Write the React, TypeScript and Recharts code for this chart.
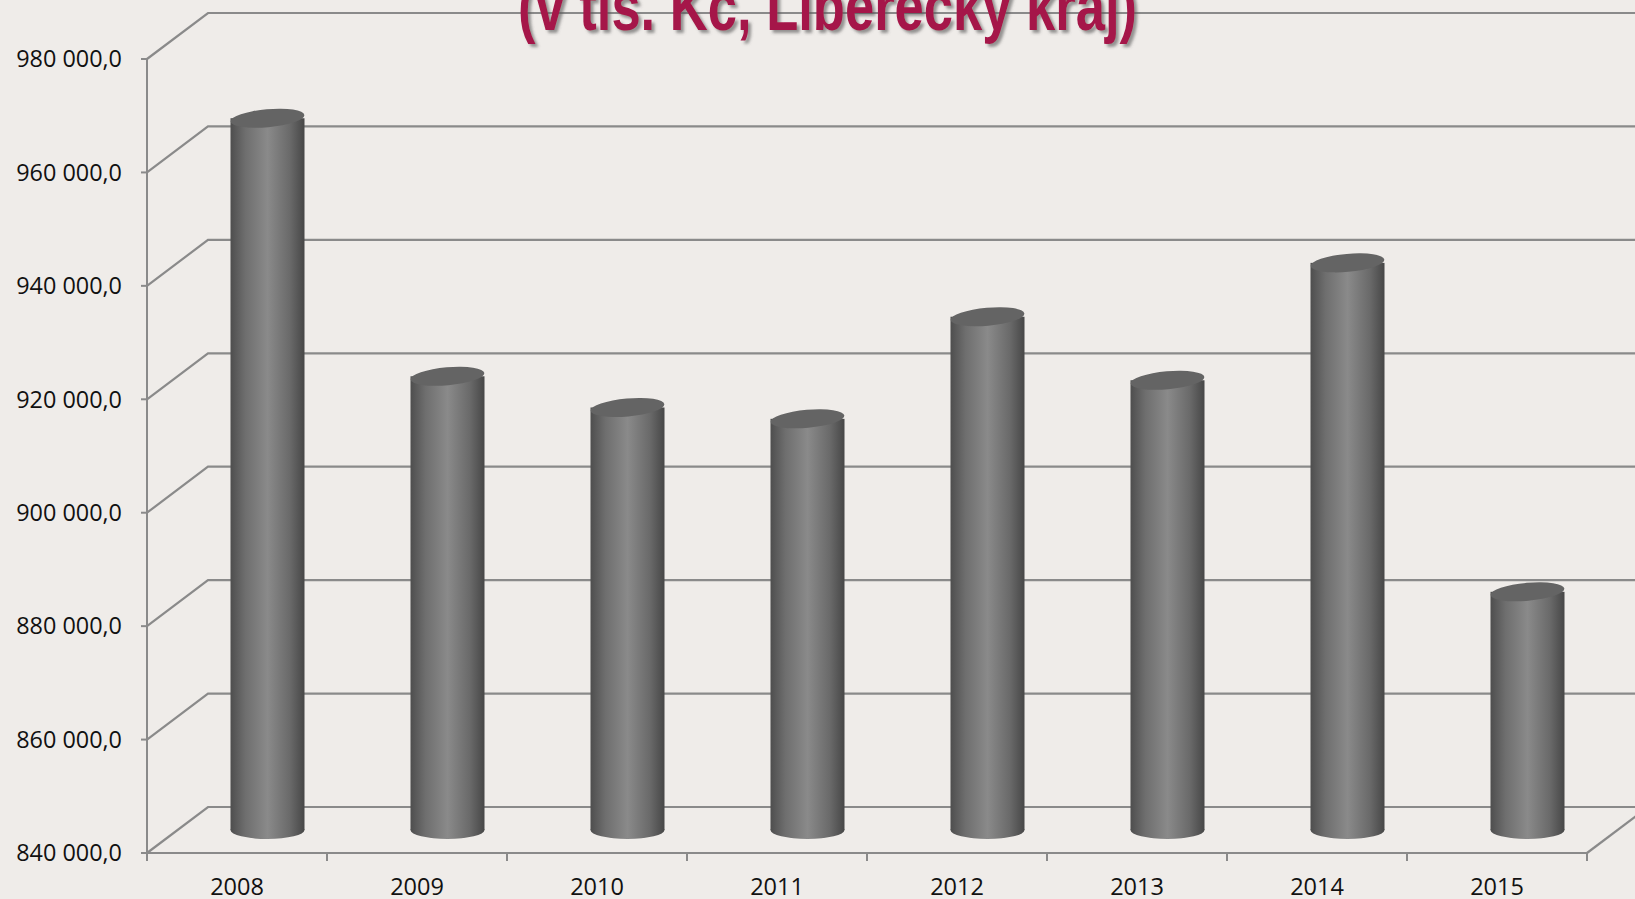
import React from "react";
import { BarChart, Bar, XAxis, YAxis, CartesianGrid } from "recharts";

const years = ["2008", "2009", "2010", "2011", "2012", "2013", "2014", "2015"];
const amounts = [965500, 920000, 914500, 912500, 930500, 919300, 940000, 882000];
const yTicks = [840000, 860000, 880000, 900000, 920000, 940000, 960000, 980000];

const data = years.map((year, i) => ({ year, amount: amounts[i] }));

// depth of the 3D box (back wall offset)
const DEPTH_X = 61;
const DEPTH_Y = 46;
const GRID = "#8a8a8a";
const BG = "#efece9";

const fmt = (v: number) => {
  const s = Math.round(v).toString().replace(/\B(?=(\d{3})+(?!\d))/g, " ");
  return s + ",0";
};

const GridLine = (props: any) => {
  const { x1, y1, x2, y, height } = props;
  const isFloor = y !== undefined && height !== undefined && Math.abs(y1 - (y + height)) < 1;
  return (
    <g>
      <path
        d={`M${x1},${y1} L${x1 + DEPTH_X},${y1 - DEPTH_Y} L${x2 + DEPTH_X + 200},${y1 - DEPTH_Y}`}
        fill="none"
        stroke={GRID}
        strokeWidth={2.2}
      />
      {isFloor && (
        <path d={`M${x2},${y1} L${x2 + DEPTH_X},${y1 - DEPTH_Y}`} fill="none" stroke={GRID} strokeWidth={2.2} />
      )}
    </g>
  );
};

const YearTick = (props: any) => {
  const { x, y, payload, index, width } = props;
  const band = width ? width / years.length : 180;
  const axisY = y - 8;
  return (
    <g>
      <line x1={x - band / 2} y1={axisY} x2={x - band / 2} y2={axisY + 8} stroke={GRID} strokeWidth={2} />
      {index === years.length - 1 && (
        <line x1={x + band / 2} y1={axisY} x2={x + band / 2} y2={axisY + 8} stroke={GRID} strokeWidth={2} />
      )}
      <text x={x} y={axisY + 42} textAnchor="middle" fill="#111" fontSize={23.5} fontFamily="'Open Sans', sans-serif">
        {payload.value}
      </text>
    </g>
  );
};

const Cylinder = (props: any) => {
  const { x, y, width, height } = props;
  if (height == null) return null;
  const cx = x + width / 2 + DEPTH_X / 2;
  const left = cx - width / 2;
  const top = y - DEPTH_Y / 2;
  const bottom = top + height;
  const rx = width / 2;
  const ry = 9;
  return (
    <g>
      <ellipse cx={cx} cy={bottom} rx={rx} ry={ry} fill="url(#cylBody)" />
      <rect x={left} y={top} width={width} height={height} fill="url(#cylBody)" />
      <ellipse cx={cx} cy={top} rx={rx} ry={ry} fill="#646464" transform={`rotate(-5 ${cx} ${top})`} />
    </g>
  );
};

export default function App() {
  return (
    <div style={{ position: "absolute", left: 0, top: 0, width: 1635, height: 899, background: BG, overflow: "hidden" }}>
      <BarChart
        width={1635}
        height={899}
        data={data}
        margin={{ top: 59, right: 48, bottom: 0, left: 0 }}
        barCategoryGap={0}
      >
        <defs>
          <linearGradient id="cylBody" x1="0" y1="0" x2="1" y2="0">
            <stop offset="0%" stopColor="#4e4e4e" />
            <stop offset="20%" stopColor="#6e6e6e" />
            <stop offset="50%" stopColor="#8a8a8a" />
            <stop offset="80%" stopColor="#6a6a6a" />
            <stop offset="100%" stopColor="#474747" />
          </linearGradient>
        </defs>
        <CartesianGrid horizontal={(p: any) => <GridLine {...p} />} vertical={false} />
        <XAxis
          dataKey="year"
          height={46}
          axisLine={{ stroke: GRID, strokeWidth: 2 }}
          tickLine={false}
          tick={(p: any) => <YearTick {...p} />}
          interval={0}
        />
        <YAxis
          width={147}
          domain={[840000, 980000]}
          ticks={yTicks}
          allowDataOverflow
          axisLine={{ stroke: GRID, strokeWidth: 2 }}
          tickLine={{ stroke: GRID, strokeWidth: 2 }}
          tickSize={6}
          tickMargin={19}
          tickFormatter={fmt}
          tick={{ fill: "#111", fontSize: 23.4, fontFamily: "'Open Sans', sans-serif" }}
        />
        <Bar dataKey="amount" barSize={74} shape={(p: any) => <Cylinder {...p} />} isAnimationActive={false} />
      </BarChart>
      <svg width={1635} height={60} style={{ position: "absolute", left: 0, top: 0 }}>
        <defs>
          <filter id="tshadow" x="-10%" y="-50%" width="120%" height="200%">
            <feDropShadow dx={3} dy={3} stdDeviation={1.5} floodColor="#555" floodOpacity={0.6} />
          </filter>
        </defs>
        <text
          x={518}
          y={30}
          textLength={619}
          lengthAdjust="spacingAndGlyphs"
          fill="#a51648"
          fontSize={68}
          fontWeight="bold"
          fontFamily="'Liberation Sans', Arial, sans-serif"
          filter="url(#tshadow)"
        >
          (v tis. Kč, Liberecký kraj)
        </text>
      </svg>
    </div>
  );
}
